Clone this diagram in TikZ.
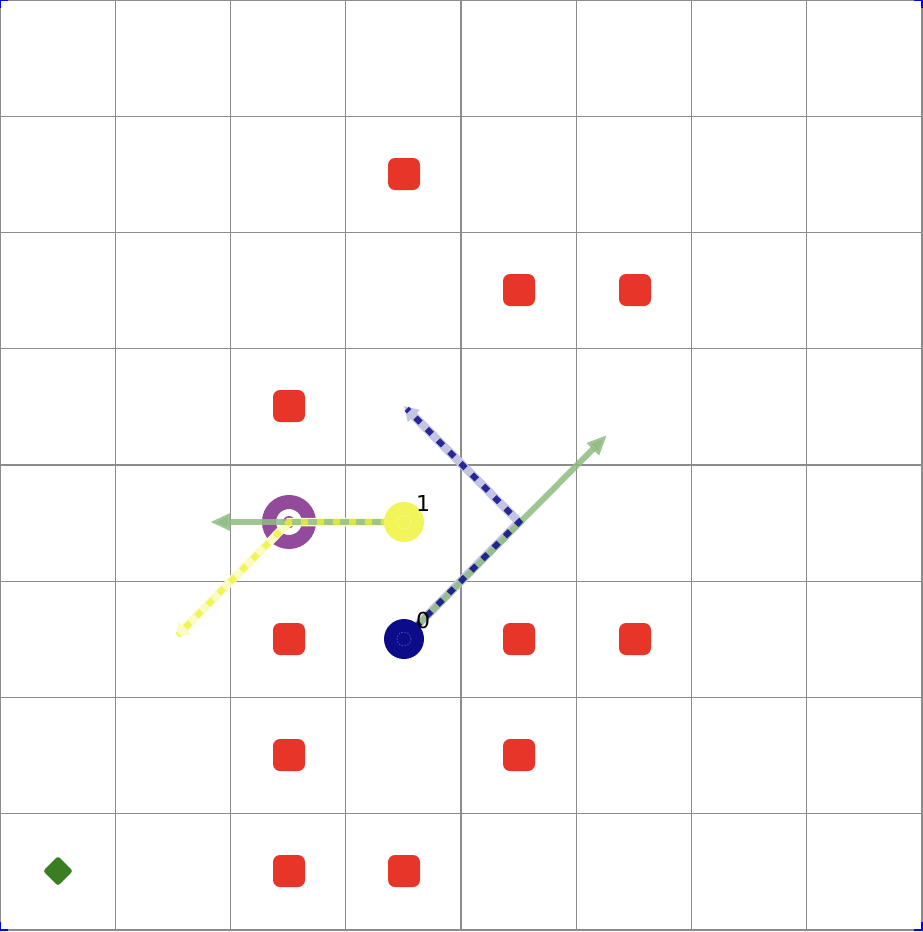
\documentclass[tikz,border=0pt]{standalone}
\usepackage{fontspec}
\setsansfont{DejaVu Sans}
\usetikzlibrary{arrows.meta}
\definecolor{gridc}{HTML}{8C8C8C}
\definecolor{obstc}{HTML}{E8352A}
\definecolor{goalc}{HTML}{3A7D22}
\definecolor{navyc}{HTML}{0C0C8A}
\definecolor{yelc}{HTML}{F2F55A}
\definecolor{dashyel}{HTML}{EEF230}
\definecolor{purc}{HTML}{944A9A}
\definecolor{grnc}{HTML}{8FBC80}
\definecolor{lavc}{HTML}{C4C4E4}
\definecolor{lyelc}{HTML}{FBFBC4}
\tikzset{
  gridline/.style={draw=gridc, line width=1.3pt},
  obst/.style={rectangle, fill=obstc, rounded corners=7pt, minimum size=32pt, inner sep=0pt},
  goal/.style={rectangle, fill=goalc, rounded corners=2.5pt, minimum size=21pt, inner sep=0pt, rotate=45},
  agent/.style={circle, minimum size=40pt, inner sep=0pt},
  lbl/.style={font=\sffamily\fontsize{22}{22}\selectfont, inner sep=0pt},
  grnpath/.style={draw=grnc, line width=6pt, opacity=0.85, -{Triangle[length=20pt,width=16pt]}},
  dashbg/.style={line width=8.5pt, -{Triangle[length=14pt,width=16pt]}},
  dashfg/.style={line width=6pt, dash pattern=on 7pt off 9pt, shorten >=4pt},
  corner/.style={draw=blue, line width=2.5pt}
}
\begin{document}
\begin{tikzpicture}[x=1pt,y=-1pt]
\useasboundingbox (0,0) rectangle (922,932);
\fill[white] (0,0) rectangle (922,932);
\foreach \i in {0,...,8} \draw[gridline] (\i*115.25,0) -- (\i*115.25,930);
\foreach \j in {0,...,8} \draw[gridline] (0,\j*116.25) -- (922,\j*116.25);
% obstacles
\node[obst] (o1) at (404,174) {};
\node[obst] (o2) at (519,290) {};
\node[obst] (o3) at (635,290) {};
\node[obst] (o4) at (289,406) {};
\node[obst] (o5) at (289,639) {};
\node[obst] (o6) at (519,639) {};
\node[obst] (o7) at (635,639) {};
\node[obst] (o8) at (289,755) {};
\node[obst] (o9) at (519,755) {};
\node[obst] (o10) at (289,871) {};
\node[obst] (o11) at (404,871) {};
% goal
\node[goal] (g) at (58,871) {};
% purple ring
\node[circle, draw=purc, line width=14pt, minimum size=40pt, inner sep=0pt] (p) at (289,522) {};
\fill[purc] (p.center) circle (6);
% coordinates
\coordinate (b0) at (404,639);
\coordinate (y1) at (404,522);
\coordinate (gA) at (210,522);
\coordinate (gB) at (607,435);
\coordinate (bm) at (519,522);
\coordinate (bE) at (404,406);
\coordinate (yE) at (175,638);
% dashed path backgrounds
\draw[dashbg, draw=lavc] (b0) -- (bm) -- (bE);
\draw[dashbg, draw=lyelc] (y1) -- (p.center) -- (yE);
% green paths
\draw[grnpath] (y1) -- (gA);
\draw[grnpath] (b0) -- (gB);
% dashes
\draw[dashfg, draw=navyc, opacity=0.85] (b0) -- (bm) -- (bE);
\draw[dashfg, draw=dashyel, opacity=0.75] (y1) -- (p.center) -- (yE);
% agents
\node[agent, fill=navyc] (a0) at (b0) {};
\draw[white, opacity=0.4, line width=0.5pt, dash pattern=on 1.5pt off 1.5pt] (a0.center) circle (7);
\node[agent, fill=yelc] (a1) at (y1) {};
\draw[white, opacity=0.6, line width=0.5pt, dash pattern=on 1.5pt off 1.5pt] (a1.center) circle (7);
\node[lbl] (l0) at (423,620) {0};
\node[lbl] (l1) at (423,503) {1};
% corners
\draw[corner] (0,8) -- (0,0) -- (8,0);
\draw[corner] (914,0) -- (922,0) -- (922,8);
\draw[corner] (0,922) -- (0,930) -- (8,930);
\draw[corner] (914,930) -- (922,930) -- (922,922);
\end{tikzpicture}
\end{document}
